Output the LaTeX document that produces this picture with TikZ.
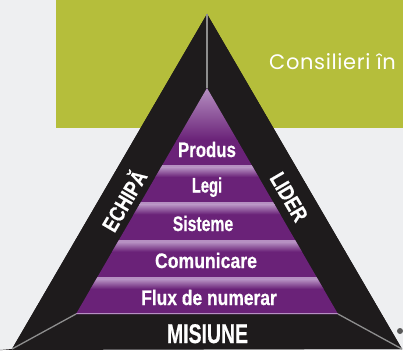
\documentclass[tikz,border=0pt]{standalone}
\usepackage{fontspec}
\usepackage{graphicx}
\newfontfamily\condfont[BoldFont={Liberation Sans Bold}, BoldFeatures={FakeBold=0.6}]{Liberation Sans}
\newfontfamily\geofont[LetterSpace=3]{Poppins}
\newcommand{\sq}[2]{\scalebox{#1}[1]{#2}}
\definecolor{bgc}{HTML}{EEEFF1}
\definecolor{greenc}{HTML}{B5BE3B}
\definecolor{blackc}{HTML}{1E1B1C}
\definecolor{purpd}{HTML}{6A2278}
\definecolor{purpl}{HTML}{B690C2}
\definecolor{linec}{HTML}{8E8E8E}
\tikzset{
  bandtext/.style={text=white, inner sep=0pt, anchor=base, font=\condfont\bfseries\fontsize{21}{21}\selectfont},
  sidetext/.style={text=white, inner sep=0pt, anchor=center, font=\condfont\bfseries\fontsize{22}{22}\selectfont},
  edgeline/.style={draw=linec, line width=1.3pt},
}
\begin{document}
\begin{tikzpicture}[x=1pt,y=-1pt]
\useasboundingbox (0,0) rectangle (403,350);
\fill[bgc] (0,0) rectangle (403,350);
\fill[greenc] (56,0) rectangle (403,128);
\node[anchor=base west, inner sep=0pt, text=white, font=\geofont\fontsize{21}{21}\selectfont] (cons) at (269,70) {Consilieri în};
% outer triangle
\coordinate (A) at (207,14);
\coordinate (BL) at (12,349);
\coordinate (BR) at (402,349);
\coordinate (IA) at (207,88);
\coordinate (IL) at (76,314);
\coordinate (IR) at (338,314);
\fill[blackc] (A) -- (BR) -- (0,350) -- (BL) -- cycle;
\fill[blackc] (A) -- (BR) -- (BL) -- cycle;
% inner pyramid
\begin{scope}
\clip (IA) -- (IR) -- (IL) -- cycle;
\shade[top color=purpl, bottom color=purpd] (60,88) rectangle (350,140);
\fill[purpd] (60,139.5) rectangle (350,315);
\foreach \y in {165,202.3,239.6,276.9} {
  \fill[purpl] (60,\y) rectangle (350,\y+2.5);
  \shade[top color=purpl, bottom color=purpd] (60,\y+2.4) rectangle (350,\y+12);
}
\fill[purpl] (60,312.5) rectangle (350,315);
\end{scope}
% edge lines
\draw[edgeline] (A) -- (IA);
\draw[edgeline] (BL) -- (IL);
\draw[edgeline] (BR) -- (IR);
% labels
\node[bandtext] (produs) at (207,157) {\sq{0.8}{Produs}};
\node[bandtext] (legi) at (207,192.5) {\sq{0.7}{Legi}};
\node[bandtext] (sisteme) at (203,231) {\sq{0.75}{Sisteme}};
\node[bandtext] (comunicare) at (206,268) {\sq{0.84}{Comunicare}};
\node[bandtext] (flux) at (209,305) {\sq{0.83}{Flux de numerar}};
\node[bandtext, font=\condfont\bfseries\fontsize{27}{27}\selectfont] (misiune) at (207.5,343) {\sq{0.72}{MISIUNE}};
\node[sidetext, rotate=59.7] (echipa) at (123,200) {\sq{0.8}{ECHIPĂ}};
\node[sidetext, rotate=-59.7] (lider) at (289,197) {\sq{0.8}{LIDER}};
\fill[black!65] (400,331) circle (3);
\end{tikzpicture}
\end{document}
